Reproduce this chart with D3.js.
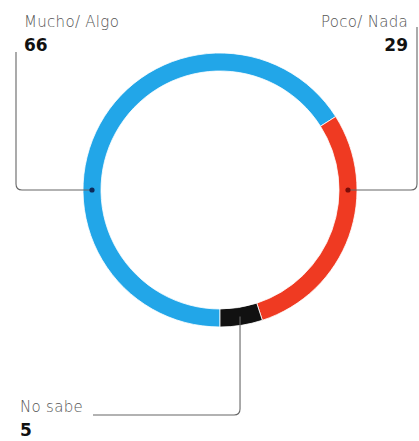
<!DOCTYPE html>
<html>
<head>
<meta charset="utf-8">
<script src="https://cdn.jsdelivr.net/npm/d3@7"></script>
<style>
  html, body { margin: 0; padding: 0; background: #fff; }
  svg text { font-family: "DejaVu Sans", "Open Sans", sans-serif; }
</style>
</head>
<body>
<div id="chart"></div>
<script>
// ── Data ─────────────────────────────────────────────────────────
const categories = ['Mucho/ Algo', 'Poco/ Nada', 'No sabe'];
const values = [66, 29, 5];
const colors = ['#22a6e8', '#ef3a22', '#111111'];

// ── Layout ───────────────────────────────────────────────────────
const W = 419, H = 441;
const cx = 220, cy = 190;
const rOuter = 137, rInner = 119, rMid = (rOuter + rInner) / 2;

const svg = d3.select('#chart').append('svg')
  .attr('width', W).attr('height', H);

const g = svg.append('g').attr('transform', `translate(${cx},${cy})`);

const pie = d3.pie().value(d => d.value).sort(null)
  .startAngle(Math.PI).endAngle(3 * Math.PI);
const arc = d3.arc().innerRadius(rInner).outerRadius(rOuter);

const data = categories.map((c, i) => ({ cat: c, value: values[i], color: colors[i] }));
const arcs = pie(data);

g.selectAll('path.slice')
  .data(arcs)
  .enter().append('path')
  .attr('class', 'slice')
  .attr('d', arc)
  .attr('fill', d => d.data.color)
  .attr('stroke', '#fff')
  .attr('stroke-width', 0.8);

// point on ring at angle (radians, clockwise from top)
const pt = a => [cx + rMid * Math.sin(a), cy - rMid * Math.cos(a)];

// ── Leader lines + labels ────────────────────────────────────────
const lineColor = '#666';
const rc = 6; // corner radius

// left: Mucho/ Algo
{
  const [x0, y0] = pt(1.5 * Math.PI);
  const xv = 16, yTop = 52;
  svg.append('path')
    .attr('d', `M${x0},${y0} H${xv + rc} Q${xv},${y0} ${xv},${y0 - rc} V${yTop}`)
    .attr('fill', 'none').attr('stroke', lineColor).attr('stroke-width', 1.1);
  svg.append('circle').attr('cx', x0).attr('cy', y0).attr('r', 2.6)
    .attr('fill', '#0d2a5a');
}
// right: Poco/ Nada
{
  const [x0, y0] = pt(0.5 * Math.PI);
  const xv = 417, yTop = 27;
  svg.append('path')
    .attr('d', `M${x0},${y0} H${xv - rc} Q${xv},${y0} ${xv},${y0 - rc} V${yTop}`)
    .attr('fill', 'none').attr('stroke', lineColor).attr('stroke-width', 1.1);
  svg.append('circle').attr('cx', x0).attr('cy', y0).attr('r', 2.6)
    .attr('fill', '#7a0c08');
}
// bottom: No sabe
{
  const a = (arcs[2].startAngle + arcs[2].endAngle) / 2;
  const [x0, y0] = pt(a);
  const yh = 415, xEnd = 93;
  svg.append('path')
    .attr('d', `M${x0},${y0} V${yh - rc} Q${x0},${yh} ${x0 - rc},${yh} H${xEnd}`)
    .attr('fill', 'none').attr('stroke', lineColor).attr('stroke-width', 1.1);
}

const labels = [
  { x: 24, y: 27, anchor: 'start' },
  { x: 408, y: 27, anchor: 'end' },
  { x: 20, y: 412, anchor: 'start' },
];

labels.forEach((l, i) => {
  svg.append('text')
    .attr('x', l.x).attr('y', l.y)
    .attr('text-anchor', l.anchor)
    .attr('font-size', '15px')
    .attr('font-weight', '300')
    .attr('letter-spacing', '0.3px')
    .attr('fill', '#555')
    .text(categories[i]);
  svg.append('text')
    .attr('x', l.x).attr('y', l.y + 24)
    .attr('text-anchor', l.anchor)
    .attr('font-size', '17px')
    .attr('font-weight', '800')
    .attr('fill', '#111')
    .attr('font-family', '"Open Sans", sans-serif')
    .text(values[i]);
});
</script>
</body>
</html>
